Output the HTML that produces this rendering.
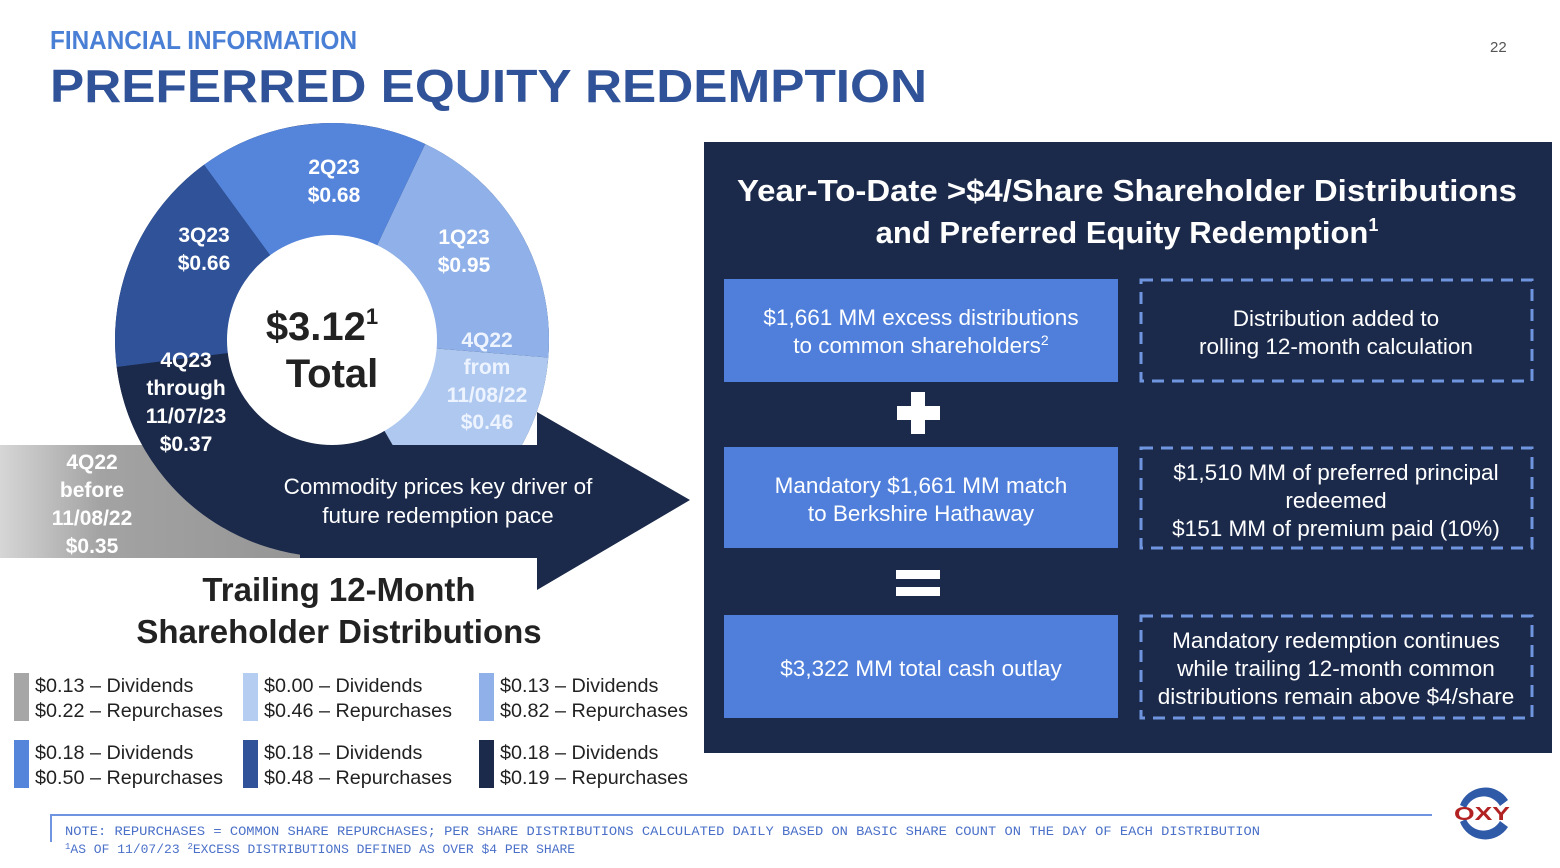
<!DOCTYPE html>
<html><head><meta charset="utf-8"><style>
html,body{margin:0;padding:0;background:#fff;}
svg{display:block;font-family:"Liberation Sans",Arial,sans-serif;}
</style></head><body>
<svg id="slide" width="1560" height="868" viewBox="0 0 1560 868" xmlns="http://www.w3.org/2000/svg">
<defs>
<linearGradient id="greyg" x1="0" x2="1" y1="0" y2="0">
<stop offset="0" stop-color="#d6d6d6"/><stop offset="0.25" stop-color="#a3a3a3"/><stop offset="1" stop-color="#8f8f8f"/>
</linearGradient>
</defs>
<text x="50" y="49" font-size="26" font-weight="bold" fill="#4a7fd6" textLength="307" lengthAdjust="spacingAndGlyphs">FINANCIAL INFORMATION</text>
<text x="50" y="102" font-size="46" font-weight="bold" fill="#2f5298" textLength="877" lengthAdjust="spacingAndGlyphs">PREFERRED EQUITY REDEMPTION</text>
<text x="1490" y="52" font-size="15" fill="#555">22</text>

<!-- left chart -->
<rect x="0" y="445" width="400" height="113" fill="url(#greyg)"/>
<circle cx="332" cy="340" r="217" fill="#1b2a4a"/>
<g id="donut"></g>
<polygon points="300,445 537,445 537,412 690,500 537,590 537,558 300,558" fill="#1b2a4a"/>
<circle cx="332" cy="340" r="105" fill="#fff"/>

<g font-weight="bold" font-size="21" fill="#fff" text-anchor="middle">
<text x="334" y="174">2Q23</text>
<text x="334" y="202">$0.68</text>
<text x="204" y="242">3Q23</text>
<text x="204" y="270">$0.66</text>
<text x="464" y="244">1Q23</text>
<text x="464" y="272">$0.95</text>
<g fill="#eef4ff">
<text x="487" y="347">4Q22</text>
<text x="487" y="374">from</text>
<text x="487" y="402">11/08/22</text>
<text x="487" y="429">$0.46</text>
</g>
<text x="186" y="367">4Q23</text>
<text x="186" y="395">through</text>
<text x="186" y="423">11/07/23</text>
<text x="186" y="451">$0.37</text>
<text x="92" y="469">4Q22</text>
<text x="92" y="497">before</text>
<text x="92" y="525">11/08/22</text>
<text x="92" y="553">$0.35</text>
</g>
<text x="322" y="340" font-size="40" font-weight="bold" fill="#222" text-anchor="middle">$3.12<tspan font-size="22" dy="-16">1</tspan></text>
<text x="332" y="387" font-size="40" font-weight="bold" fill="#222" text-anchor="middle">Total</text>
<text x="438" y="494" font-size="22.5" fill="#fff" text-anchor="middle">Commodity prices key driver of</text>
<text x="438" y="523" font-size="22.5" fill="#fff" text-anchor="middle">future redemption pace</text>
<text x="339" y="601" font-size="33" font-weight="bold" fill="#222" text-anchor="middle">Trailing 12-Month</text>
<text x="339" y="643" font-size="33" font-weight="bold" fill="#222" text-anchor="middle">Shareholder Distributions</text>
<g id="legend"></g>

<!-- right panel -->
<rect x="704" y="142" width="848" height="611" fill="#1b2a4a"/>
<text x="737" y="201" font-size="31" font-weight="bold" fill="#fff" textLength="780" lengthAdjust="spacingAndGlyphs">Year-To-Date &gt;$4/Share Shareholder Distributions</text>
<text x="1127" y="243" font-size="31" font-weight="bold" fill="#fff" text-anchor="middle">and Preferred Equity Redemption<tspan font-size="18" dy="-12">1</tspan></text>
<g fill="#4f7fdb">
<rect x="724" y="279" width="394" height="103"/>
<rect x="724" y="447" width="394" height="101"/>
<rect x="724" y="615" width="394" height="103"/>
</g>
<g fill="none" stroke="#6f95e0" stroke-width="3" stroke-dasharray="12,8">
<rect x="1141" y="280" width="391" height="101"/>
<rect x="1141" y="448" width="391" height="100"/>
<rect x="1141" y="616" width="391" height="102"/>
</g>
<g font-size="22.5" fill="#fff" text-anchor="middle">
<text x="921" y="325">$1,661 MM excess distributions</text>
<text x="921" y="353">to common shareholders<tspan font-size="14" dy="-8">2</tspan></text>
<text x="921" y="493">Mandatory $1,661 MM match</text>
<text x="921" y="521">to Berkshire Hathaway</text>
<text x="921" y="676">$3,322 MM total cash outlay</text>
<text x="1336" y="326">Distribution added to</text>
<text x="1336" y="354">rolling 12-month calculation</text>
<text x="1336" y="480">$1,510 MM of preferred principal</text>
<text x="1336" y="508">redeemed</text>
<text x="1336" y="536">$151 MM of premium paid (10%)</text>
<text x="1336" y="648">Mandatory redemption continues</text>
<text x="1336" y="676">while trailing 12-month common</text>
<text x="1336" y="704">distributions remain above $4/share</text>
</g>
<g fill="#fff">
<rect x="897" y="406" width="43" height="14"/><rect x="911" y="392" width="14" height="42"/>
</g>
<g fill="#fff">
<rect x="896" y="570" width="44" height="9"/><rect x="896" y="587" width="44" height="9"/>
</g>

<!-- footer -->
<path d="M51,842 V815 H1432" fill="none" stroke="#6f95e0" stroke-width="2"/>
<g font-family="Liberation Mono, monospace" font-size="13" fill="#4a70c8">
<text x="65" y="835" textLength="1195" lengthAdjust="spacingAndGlyphs">NOTE: REPURCHASES = COMMON SHARE REPURCHASES; PER SHARE DISTRIBUTIONS CALCULATED DAILY BASED ON BASIC SHARE COUNT ON THE DAY OF EACH DISTRIBUTION</text>
<text x="65" y="853"><tspan font-size="9" dy="-4">1</tspan><tspan dy="4">AS OF 11/07/23   </tspan><tspan font-size="9" dy="-4">2</tspan><tspan dy="4">EXCESS DISTRIBUTIONS DEFINED AS OVER $4 PER SHARE</tspan></text>
</g>
<g>
<path d="M1460,805 A27,27 0 0 1 1508,800 L1500,806 A19,19 0 0 0 1466,808 Z" fill="#2f5aa8"/>
<path d="M1460,822 A27,27 0 0 0 1508,827 L1500,821 A19,19 0 0 1 1466,819 Z" fill="#2f5aa8"/>
<text x="1482" y="820" font-size="18" font-weight="bold" fill="#b22222" text-anchor="middle" textLength="56" lengthAdjust="spacingAndGlyphs">OXY</text>
</g>
</svg>
<script>
// donut data, chronological (counter-clockwise from bottom right)
const periods = ["4Q22 from 11/08/22","1Q23","2Q23","3Q23","4Q23 through 11/07/23"];
const values = [0.46, 0.95, 0.68, 0.66, 0.37];
const sliceColors = ["#aec8ef","#8fb0e8","#5585db","#2f5298","#1b2a4a"];
// legend data
const legendDividends = ["0.13","0.00","0.13","0.18","0.18","0.18"];
const legendRepurchases = ["0.22","0.46","0.82","0.50","0.48","0.19"];
const legendColors = ["#a6a6a6","#b4cdf0","#8fb0e8","#5585db","#2f5298","#1b2a4a"];

const NS = "http://www.w3.org/2000/svg";
const cx = 332, cy = 340, R = 217;
const weight = 1.5, sweep = 300, startAngle = 150;
const total = values.reduce((a, b) => a + b, 0) + weight * values.length;
function angleScale(v) { return sweep * (v + weight) / total; }
function pt(deg, r) { const a = (deg - 90) * Math.PI / 180; return [cx + r * Math.cos(a), cy + r * Math.sin(a)]; }
const donut = document.getElementById("donut");
let end = startAngle;
values.forEach((v, i) => {
  const span = angleScale(v);
  const start = end - span;
  const p1 = pt(start, R), p2 = pt(end, R);
  const p = document.createElementNS(NS, "path");
  p.setAttribute("d", `M${cx},${cy} L${p1[0]},${p1[1]} A${R},${R} 0 ${span > 180 ? 1 : 0} 1 ${p2[0]},${p2[1]} Z`);
  p.setAttribute("fill", sliceColors[i]);
  
  
  donut.appendChild(p);
  end = start;
});

const legend = document.getElementById("legend");
const colX = [14, 243, 479], rowY = [673, 740];
legendColors.forEach((c, i) => {
  const x = colX[i % 3], y = rowY[Math.floor(i / 3)];
  const g = document.createElementNS(NS, "g");
  
  
  const r = document.createElementNS(NS, "rect");
  r.setAttribute("x", x); r.setAttribute("y", y); r.setAttribute("width", 15); r.setAttribute("height", 48); r.setAttribute("fill", c);
  
  
  g.appendChild(r);
  [["$" + legendDividends[i] + " \u2013 Dividends", 19], ["$" + legendRepurchases[i] + " \u2013 Repurchases", 44]].forEach(([t, dy]) => {
    const tx = document.createElementNS(NS, "text");
    tx.setAttribute("x", x + 21); tx.setAttribute("y", y + dy); tx.setAttribute("font-size", 19.8); tx.setAttribute("fill", "#222");
    tx.textContent = t;
    
    
    g.appendChild(tx);
  });
  legend.appendChild(g);
});
</script>
</body></html>
